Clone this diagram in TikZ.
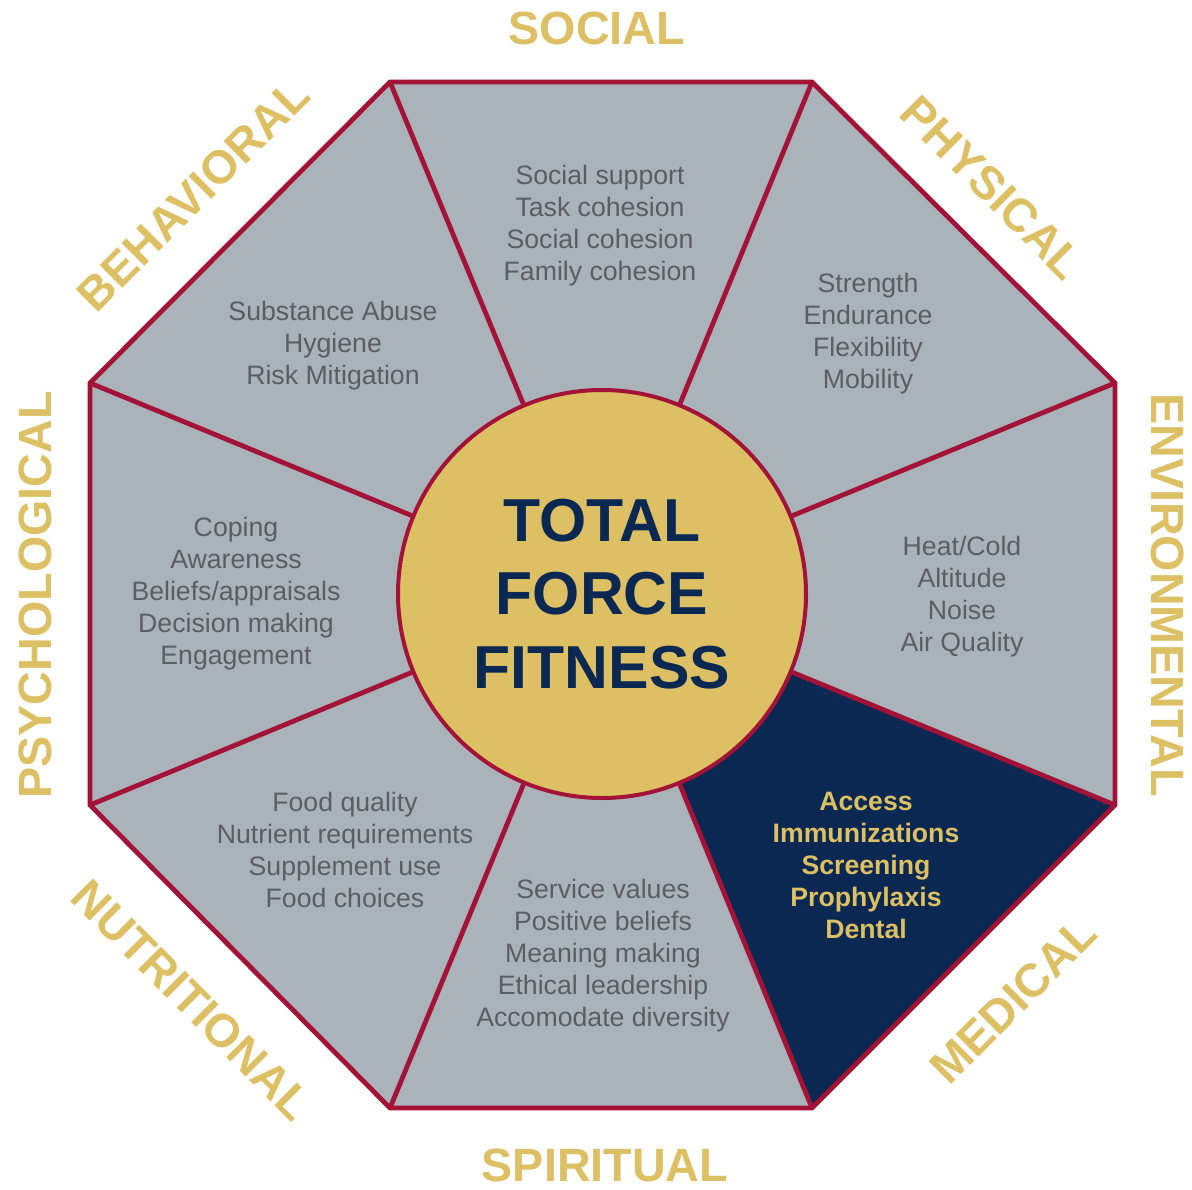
\documentclass[tikz,border=0pt]{standalone}
\usepackage{fontspec}
\setmainfont{Liberation Sans}
\definecolor{tffgray}{RGB}{171,179,186}
\definecolor{tffred}{RGB}{163,18,55}
\definecolor{tffgold}{RGB}{221,192,100}
\definecolor{tffnavy}{RGB}{10,40,82}
\definecolor{tfftext}{RGB}{88,94,100}
\tikzset{
  spoke/.style={draw=tffred, line width=3.6pt},
  domainlabel/.style={font=\fontsize{35}{40}\selectfont\bfseries, text=tffgold, inner sep=0.75pt},
  itemlist/.style={font=\fontsize{20}{24}\selectfont, text=tfftext, align=center, inner sep=0.75pt},
}

\begin{document}
\begin{tikzpicture}[x=0.75pt,y=0.75pt,yscale=-1,xscale=1]
\useasboundingbox (0,0) rectangle (1192,1189);

%Octagon corners
\coordinate (tl) at (390,82);
\coordinate (tr) at (812,82);
\coordinate (rt) at (1115,383);
\coordinate (rb) at (1115,805);
\coordinate (br) at (812,1108);
\coordinate (bl) at (390,1108);
\coordinate (lb) at (90,805);
\coordinate (lt) at (90,383);

%Shape: Octagon fill
\fill [tffgray] (tl) -- (tr) -- (rt) -- (rb) -- (br) -- (bl) -- (lb) -- (lt) -- cycle ;
%Shape: Medical sector
\fill [tffnavy] (602,594) -- (rb) -- (br) -- cycle ;

%Shape: Circle
\node [circle, fill=tffgold, draw=tffred, line width=3pt, minimum size=306pt, inner sep=0pt,
  font=\fontsize{45.5}{55}\selectfont\bfseries, text=tffnavy, align=center] (ctr) at (602,594) {TOTAL\\FORCE\\FITNESS};

%Straight Lines
\foreach \v in {tl,tr,rt,rb,br,bl,lb,lt}
  \draw [spoke] (ctr) -- (\v) ;
%Shape: Octagon outline
\draw [spoke, line join=miter] (tl) -- (tr) -- (rt) -- (rb) -- (br) -- (bl) -- (lb) -- (lt) -- cycle ;

% Text Node
\node [itemlist] (socialitems) at (600,226) {Social support\\Task cohesion\\Social cohesion\\Family cohesion};
% Text Node
\node [itemlist] (physicalitems) at (868,334) {Strength\\Endurance\\Flexibility\\Mobility};
% Text Node
\node [itemlist] (envitems) at (962,597) {Heat/Cold\\Altitude\\Noise\\Air Quality};
% Text Node
\node [itemlist, text=tffgold, font=\fontsize{20}{24}\selectfont\bfseries] (medicalitems) at (866,865) {Access\\Immunizations\\Screening\\Prophylaxis\\Dental};
% Text Node
\node [itemlist] (spiritualitems) at (603,956) {Service values\\Positive beliefs\\Meaning making\\Ethical leadership\\Accomodate diversity};
% Text Node
\node [itemlist] (nutritionitems) at (345,850) {Food quality\\Nutrient requirements\\Supplement use\\Food choices};
% Text Node
\node [itemlist] (psychitems) at (236,594) {Coping\\Awareness\\Beliefs/appraisals\\Decision making\\Engagement};
% Text Node
\node [itemlist] (behavitems) at (333,346) {Substance Abuse\\Hygiene\\Risk Mitigation};

% Domain labels
\node [domainlabel] (social) at (597,28) {SOCIAL};
\node [domainlabel, rotate=-45] (physical) at (992,188) {PHYSICAL};
\node [domainlabel, rotate=-90] (environmental) at (1168,595) {ENVIRONMENTAL};
\node [domainlabel, rotate=45] (medical) at (1013,1000) {MEDICAL};
\node [domainlabel] (spiritual) at (605,1165) {SPIRITUAL};
\node [domainlabel, rotate=-45] (nutritional) at (192,1000) {NUTRITIONAL};
\node [domainlabel, rotate=90] (psychological) at (35,595) {PSYCHOLOGICAL};
\node [domainlabel, rotate=45] (behavioral) at (193,195) {BEHAVIORAL};

\end{tikzpicture}
\end{document}
